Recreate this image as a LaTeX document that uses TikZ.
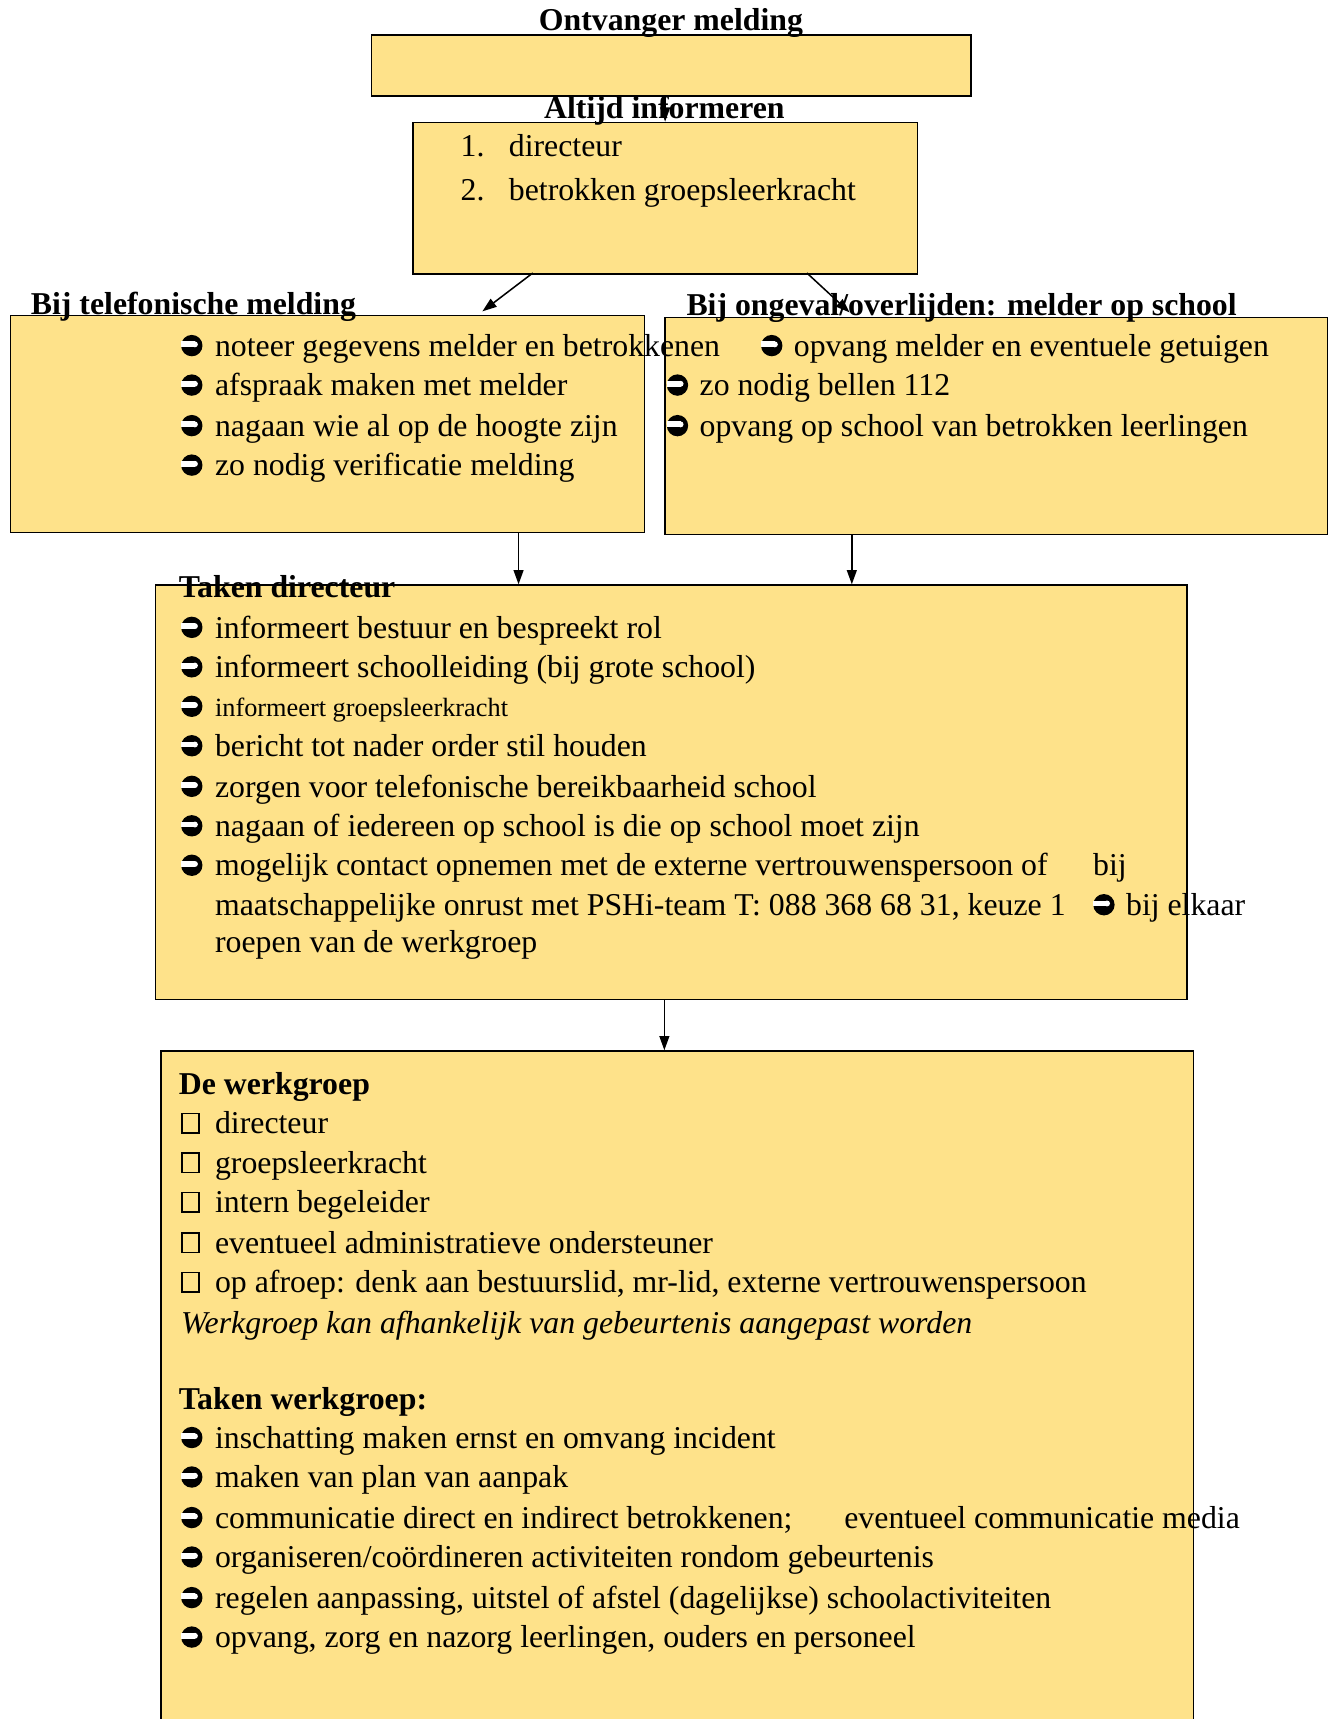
\documentclass[tikz,border=0pt]{standalone}
\usepackage{fontspec}
\setmainfont{Liberation Serif}
\usetikzlibrary{arrows.meta}
\definecolor{boxfill}{RGB}{254,226,138}
\newcommand{\fs}{\fontsize{29}{36}\selectfont}
\newcommand{\fsmall}{\fontsize{24}{30}\selectfont}
\newcommand{\wbul}{\tikz[baseline=0pt,x=1pt,y=1pt]{\fill[black] (9.75,9.75) circle (9.75);\fill[white] (0,8.2) rectangle (12.6,13.6);\fill[white] (12.6,10.9) circle (2.7);}}
\newcommand{\wsq}{\tikz[baseline=0pt,x=1pt,y=1pt]{\draw[line width=1.3pt] (0.65,0.65) rectangle (16.35,18.35);}}
\tikzset{
  box/.style={draw=black, line width=1.4pt, fill=boxfill, rectangle, anchor=north west, inner sep=0pt},
  txt/.style={anchor=base west, inner sep=0pt, font=\fs},
  ttl/.style={anchor=base west, inner sep=0pt, font=\fs\bfseries},
  arr/.style={line width=1.4pt, -{Triangle[length=13pt,width=9pt]}}
}
\begin{document}
\begin{tikzpicture}[x=1pt,y=-1pt]
\useasboundingbox (0,0) rectangle (1218,1568);
% boxes
\node[box, minimum width=547pt, minimum height=56pt] (top) at (338,31) {};
\node[box, minimum width=460pt, minimum height=138pt] (alt) at (376,111) {};
\node[box, minimum width=578pt, minimum height=198pt] (tel) at (9,287) {};
\node[box, minimum width=604pt, minimum height=198pt] (ong) at (606,289) {};
\node[box, minimum width=941pt, minimum height=378pt] (dir) at (141,533) {};
\node[box, minimum width=942pt, minimum height=640pt] (wg) at (146,958) {};
% top texts
\node[anchor=base, inner sep=0pt, font=\fs\bfseries] (h1) at (612,28) {Ontvanger melding};
\node[anchor=base, inner sep=0pt, font=\fs\bfseries] (h2) at (606,108) {Altijd informeren};
\node[txt] (n1) at (420,143) {1.};
\node[txt] (a1) at (464,143) {directeur};
\node[txt] (n2) at (420,183) {2.};
\node[txt] (a2) at (464,183) {betrokken groepsleerkracht};
% left box
\node[ttl] (h3) at (28,287) {Bij telefonische melding};
\node[txt] (l1) at (165,325) {\wbul\hspace{11.5pt}noteer gegevens melder en betrokkenen};
\node[txt] (l2) at (165,361) {\wbul\hspace{11.5pt}afspraak maken met melder};
\node[txt] (l3) at (165,398) {\wbul\hspace{11.5pt}nagaan wie al op de hoogte zijn};
\node[txt] (l4) at (165,434) {\wbul\hspace{11.5pt}zo nodig verificatie melding};
% right box
\node[ttl] (h4) at (626,288) {Bij ongeval/overlijden: melder op school};
\node[txt] (r1) at (694,325) {\wbul\hspace{10.5pt}opvang melder en eventuele getuigen};
\node[txt] (r2) at (608,361) {\wbul\hspace{10.5pt}zo nodig bellen 112};
\node[txt] (r3) at (608,398) {\wbul\hspace{10.5pt}opvang op school van betrokken leerlingen};
% taken directeur
\node[ttl] (h5) at (163,545) {Taken directeur};
\node[txt] (d1) at (165,582) {\wbul\hspace{11.5pt}informeert bestuur en bespreekt rol};
\node[txt] (d2) at (165,618) {\wbul\hspace{11.5pt}informeert schoolleiding (bij grote school)};
\node[txt] (d3) at (165,654) {\wbul\hspace{11.5pt}{\fsmall informeert groepsleerkracht}};
\node[txt] (d4) at (165,690) {\wbul\hspace{11.5pt}bericht tot nader order stil houden};
\node[txt] (d5) at (165,727) {\wbul\hspace{11.5pt}zorgen voor telefonische bereikbaarheid school};
\node[txt] (d6) at (165,763) {\wbul\hspace{11.5pt}nagaan of iedereen op school is die op school moet zijn};
\node[txt] (d7) at (165,799) {\wbul\hspace{11.5pt}mogelijk contact opnemen met de externe vertrouwenspersoon of};
\node[txt] (d7b) at (997,799) {bij};
\node[txt] (d8) at (196,835) {maatschappelijke onrust met PSHi-team T: 088 368 68 31, keuze 1};
\node[txt] (d8b) at (997,835) {\wbul\hspace{10.5pt}bij elkaar};
\node[txt] (d9) at (196,869) {roepen van de werkgroep};
% werkgroep
\node[ttl] (h6) at (163,998) {De werkgroep};
\node[txt] (w1) at (165,1034) {\wsq\hspace{14pt}directeur};
\node[txt] (w2) at (165,1070) {\wsq\hspace{14pt}groepsleerkracht};
\node[txt] (w3) at (165,1106) {\wsq\hspace{14pt}intern begeleider};
\node[txt] (w4) at (165,1143) {\wsq\hspace{14pt}eventueel administratieve ondersteuner};
\node[txt] (w5) at (165,1179) {\wsq\hspace{14pt}op afroep: denk aan bestuurslid, mr-lid, externe vertrouwenspersoon};
\node[txt, font=\fs\itshape] (w6) at (165,1216) {Werkgroep kan afhankelijk van gebeurtenis aangepast worden};
\node[ttl] (h7) at (163,1286) {Taken werkgroep:};
\node[txt] (k1) at (165,1321) {\wbul\hspace{11.5pt}inschatting maken ernst en omvang incident};
\node[txt] (k2) at (165,1357) {\wbul\hspace{11.5pt}maken van plan van aanpak};
\node[txt] (k3) at (165,1394) {\wbul\hspace{11.5pt}communicatie direct en indirect betrokkenen;};
\node[txt] (k3b) at (770,1394) {eventueel communicatie media};
\node[txt] (k4) at (165,1430) {\wbul\hspace{11.5pt}organiseren/coördineren activiteiten rondom gebeurtenis};
\node[txt] (k5) at (165,1467) {\wbul\hspace{11.5pt}regelen aanpassing, uitstel of afstel (dagelijkse) schoolactiviteiten};
\node[txt] (k6) at (165,1503) {\wbul\hspace{11.5pt}opvang, zorg en nazorg leerlingen, ouders en personeel};
% connectors
\coordinate (ls) at (486,249);
\coordinate (le) at (440,284);
\coordinate (rs) at (736,249);
\coordinate (re) at (775,285);
\draw[arr] (alt.north |- top.south) -- (alt.north);
\draw[arr] (ls) -- (le);
\draw[arr] (rs) -- (re);
\draw[arr] (tel.south -| 473,0) -- (dir.north -| 473,0);
\draw[arr] (ong.south -| 777,0) -- (dir.north -| 777,0);
\draw[arr] (dir.south -| 606,0) -- (wg.north -| 606,0);
\end{tikzpicture}
\end{document}
